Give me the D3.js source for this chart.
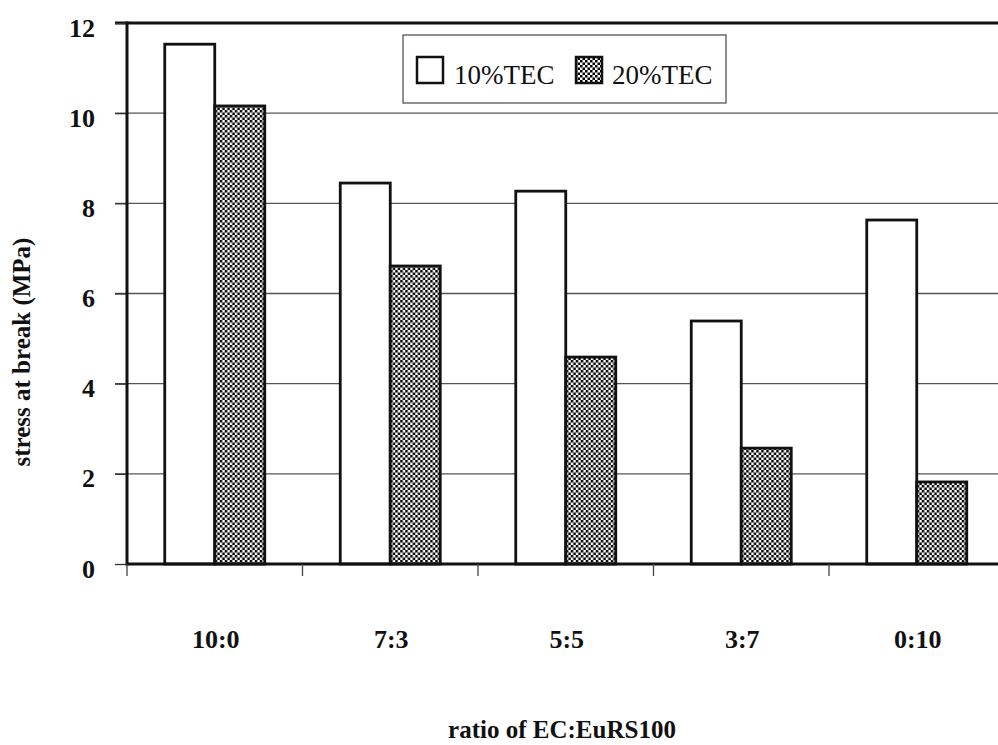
<!DOCTYPE html>
<html>
<head>
<meta charset="utf-8">
<script src="https://cdn.jsdelivr.net/npm/d3@7"></script>
<style>
  html, body { margin: 0; padding: 0; background: #fff; }
  svg { display: block; }
</style>
</head>
<body>
<svg id="chart" width="998" height="745"></svg>
<script>
const categories = ["10:0", "7:3", "5:5", "3:7", "0:10"];
const seriesNames = ["10%TEC", "20%TEC"];
const tec10 = [11.53, 8.45, 8.27, 5.39, 7.63];
const tec20 = [10.16, 6.61, 4.59, 2.57, 1.82];
const yTicks = [0, 2, 4, 6, 8, 10, 12];

(function () {
const svg = d3.select("#chart");
const pLeft = 127, pRight = 1004.5, pTop = 23, pBottom = 564;
const serif = "'Liberation Serif', 'Times New Roman', Times, serif";

const defs = svg.append("defs");
const pat = defs.append("pattern").attr("id", "checker")
  .attr("patternUnits", "userSpaceOnUse").attr("width", 5).attr("height", 5);
pat.append("rect").attr("width", 5).attr("height", 5).attr("fill", "#fff");
pat.append("rect").attr("x", 0).attr("y", 0).attr("width", 2.5).attr("height", 2.5).attr("fill", "#000");
pat.append("rect").attr("x", 2.5).attr("y", 2.5).attr("width", 2.5).attr("height", 2.5).attr("fill", "#000");

const x = d3.scaleBand().domain(categories).range([pLeft, pRight]).padding(0);
const y = d3.scaleLinear().domain([0, 12]).range([pBottom, pTop]);
const xs = d3.scaleBand().domain(seriesNames).range([0, 100]);

// gridlines
svg.append("g").selectAll("line").data(yTicks.filter(t => t > 0 && t < 12)).join("line")
  .attr("x1", 115).attr("x2", 998)
  .attr("y1", d => y(d)).attr("y2", d => y(d))
  .attr("stroke", "#555").attr("stroke-width", 1.3);

// top border
svg.append("line").attr("x1", 115).attr("x2", 998).attr("y1", y(12)).attr("y2", y(12))
  .attr("stroke", "#111").attr("stroke-width", 3);

// y axis
const yAxis = d3.axisLeft(y).tickValues(yTicks).tickSize(12).tickPadding(20).tickFormat(d3.format("d"));
const gy = svg.append("g").attr("transform", `translate(${pLeft},0)`).call(yAxis);
gy.select(".domain").remove();
gy.selectAll(".tick line").attr("stroke", "#333").attr("stroke-width", 1.3);
gy.selectAll(".tick text").attr("font-family", serif).attr("dy", "0.5em")
  .attr("font-weight", "bold").attr("font-size", 26).attr("fill", "#111");
svg.append("line").attr("x1", pLeft).attr("x2", pLeft).attr("y1", pTop - 1.5).attr("y2", pBottom + 1.5)
  .attr("stroke", "#111").attr("stroke-width", 3);

// bars
const data = categories.map((c, i) => ({c, vals: [tec10[i], tec20[i]]}));
const groups = svg.append("g").selectAll("g").data(data).join("g")
  .attr("transform", d => `translate(${x(d.c) + x.bandwidth() / 2 - 50},0)`);
groups.selectAll("rect").data(d => d.vals.map((v, j) => ({s: seriesNames[j], v})))
  .join("rect")
  .attr("x", d => xs(d.s)).attr("width", xs.bandwidth())
  .attr("y", d => y(d.v)).attr("height", d => y(0) - y(d.v))
  .attr("fill", d => d.s === "10%TEC" ? "#fff" : "url(#checker)")
  .attr("stroke", "#111").attr("stroke-width", 2.8);

// x axis
svg.append("line").attr("x1", pLeft).attr("x2", 998).attr("y1", pBottom).attr("y2", pBottom)
  .attr("stroke", "#111").attr("stroke-width", 3);
const boundaries = categories.map(c => x(c));
svg.append("g").selectAll("line").data(boundaries).join("line")
  .attr("x1", d => d).attr("x2", d => d).attr("y1", pBottom).attr("y2", pBottom + 12)
  .attr("stroke", "#444").attr("stroke-width", 1.3);
svg.append("g").selectAll("text").data(categories).join("text")
  .attr("x", d => x(d) + x.bandwidth() / 2 + 1).attr("y", 648)
  .attr("text-anchor", "middle")
  .attr("font-family", serif)
  .attr("font-weight", "bold").attr("font-size", 26).attr("fill", "#111")
  .text(d => d);

// axis titles
svg.append("text").attr("x", 562).attr("y", 738).attr("text-anchor", "middle")
  .attr("font-family", serif)
  .attr("font-weight", "bold").attr("font-size", 25).attr("fill", "#111")
  .text("ratio of EC:EuRS100");
svg.append("text").attr("transform", "translate(30,352) rotate(-90)").attr("text-anchor", "middle")
  .attr("font-family", serif)
  .attr("font-weight", "bold").attr("font-size", 25).attr("fill", "#111")
  .text("stress at break (MPa)");

// legend
const lg = svg.append("g");
lg.append("rect").attr("x", 403).attr("y", 35).attr("width", 323).attr("height", 68)
  .attr("fill", "#fff").attr("stroke", "#555").attr("stroke-width", 1.3);
const items = [{s: "10%TEC", sx: 417, tx: 454}, {s: "20%TEC", sx: 576, tx: 612}];
items.forEach(it => {
  lg.append("rect").attr("x", it.sx).attr("y", 57).attr("width", 26).attr("height", 26)
    .attr("fill", it.s === "10%TEC" ? "#fff" : "url(#checker)")
    .attr("stroke", "#111").attr("stroke-width", 2.5);
  lg.append("text").attr("x", it.tx).attr("y", 84)
    .attr("font-family", serif)
    .attr("font-size", 27).attr("fill", "#111").text(it.s);
});
})();
</script>
</body>
</html>
